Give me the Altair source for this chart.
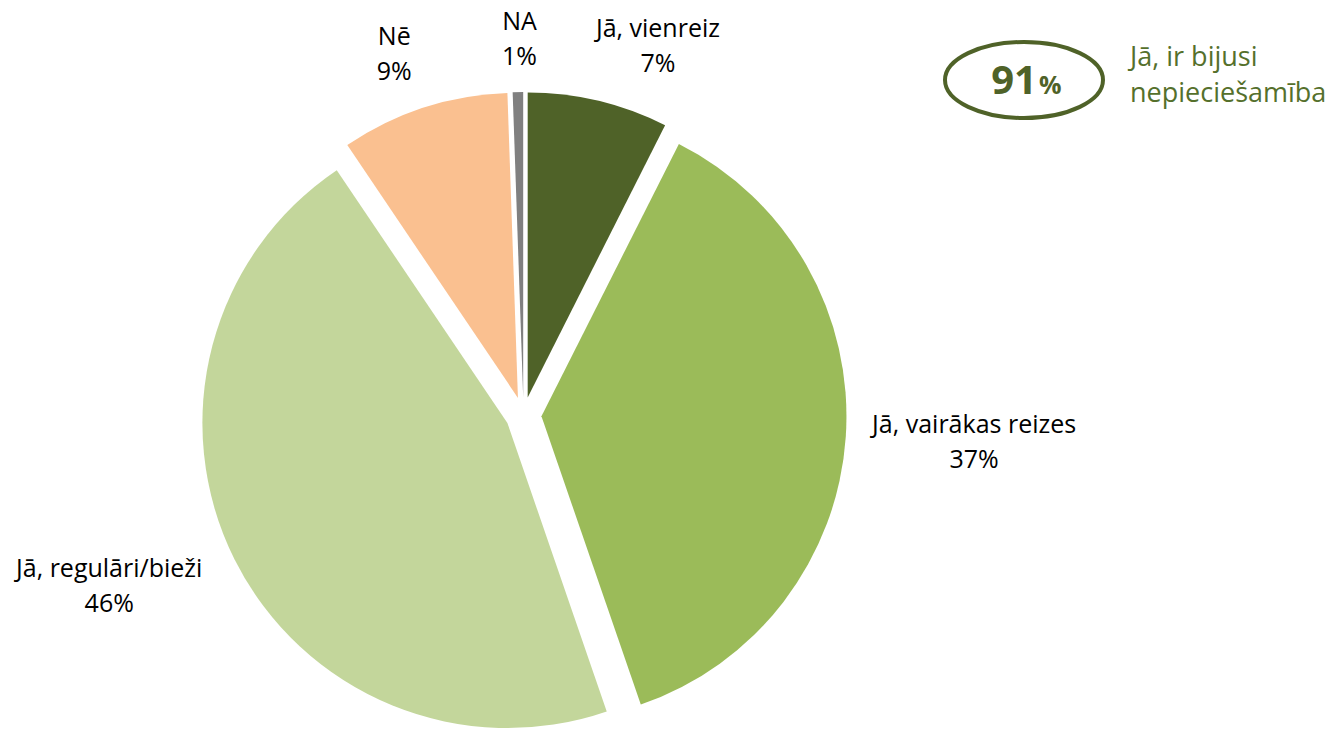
import altair as alt
import pandas as pd

# ---- data ----
categories = ["Jā, vienreiz", "Jā, vairākas reizes", "Jā, regulāri/bieži", "Nē", "NA"]
shares = [7.44, 37.28, 45.83, 8.90, 0.55]
pct_labels = ["7%", "37%", "46%", "9%", "1%"]

summary_value = "91"
summary_unit = "%"
summary_text = "Jā, ir bijusi\nnepieciešamība"

# ---- styles / layout ----
colors = ["#4F6228", "#9BBB59", "#C3D69B", "#FAC090", "#808080"]
OLIVE = "#4F6228"
label_radius = [401, 451, 445, 392, 385]      # distance of label's first baseline from pie centre
label_nudge_deg = [6.2, -1.6, 5.1, -1.25, 0.4]  # angular nudge of label from slice middle
CX, CY = 515.5, 407.0   # pie centre in plot pixels
R = 305                 # pie radius
EXPLODE = 18            # explode distance
FONT = "Open Sans"

df = pd.DataFrame({
    "cat": categories,
    "share": shares,
    "order": list(range(len(categories))),
    "lab": [f"{c}\n{p}" for c, p in zip(categories, pct_labels)],
    "lr": label_radius,
    "nudge": label_nudge_deg,
})

base = alt.Chart(df).transform_window(
    cum="sum(share)", sort=[alt.SortField("order")], frame=[None, 0]
).transform_joinaggregate(
    total="sum(share)"
).transform_calculate(
    a1="2*PI*datum.cum/datum.total",
    a0="2*PI*(datum.cum-datum.share)/datum.total",
).transform_calculate(
    mid="(datum.a0+datum.a1)/2"
).transform_calculate(
    px=f"{CX} + {EXPLODE}*sin(datum.mid)",
    py=f"{CY} - {EXPLODE}*cos(datum.mid)",
    la="datum.mid + datum.nudge*PI/180",
).transform_calculate(
    lx=f"{CX} + datum.lr*sin(datum.la)",
    ly=f"{CY} - datum.lr*cos(datum.la)",
)

arcs = base.mark_arc(radius=R).encode(
    x=alt.X("px:Q", scale=None, axis=None),
    y=alt.Y("py:Q", scale=None, axis=None),
    theta=alt.Theta("a0:Q", scale=None),
    theta2="a1:Q",
    color=alt.Color("cat:N", scale=alt.Scale(domain=categories, range=colors), legend=None),
)

labels = base.mark_text(
    font=FONT, fontSize=25, lineBreak="\n", lineHeight=35,
    align="center", baseline="alphabetic", color="#000000",
).encode(
    x=alt.X("lx:Q", scale=None, axis=None),
    y=alt.Y("ly:Q", scale=None, axis=None),
    text="lab:N",
)

ann_df = pd.DataFrame({"v": [summary_value], "u": [summary_unit], "t": [summary_text]})
ELLIPSE = "M-1,0A1,0.481,0,1,0,1,0A1,0.481,0,1,0,-1,0Z"

ellipse = alt.Chart(ann_df).mark_point(
    shape=ELLIPSE, size=158 * 158, filled=False, stroke=OLIVE, strokeWidth=4, opacity=1,
).encode(x=alt.value(1016), y=alt.value(72))

num = alt.Chart(ann_df).mark_text(
    font=FONT, fontWeight="bold", fontSize=40, align="right", baseline="alphabetic", color=OLIVE,
).encode(x=alt.value(1029), y=alt.value(86), text="v:N")

unit = alt.Chart(ann_df).mark_text(
    font=FONT, fontWeight="bold", fontSize=25, align="left", baseline="alphabetic", color=OLIVE,
).encode(x=alt.value(1031), y=alt.value(86), text="u:N")

side = alt.Chart(ann_df).mark_text(
    font=FONT, fontSize=27, lineBreak="\n", lineHeight=36, align="left",
    baseline="alphabetic", color="#55702C",
).encode(x=alt.value(1122), y=alt.value(58), text="t:N")

chart = alt.layer(arcs, labels, ellipse, num, unit, side).properties(
    width=1324, height=721, autosize="none", padding=0,
).configure_view(stroke=None)

chart.save("out.html", embed_options={"renderer": "svg", "actions": False})
